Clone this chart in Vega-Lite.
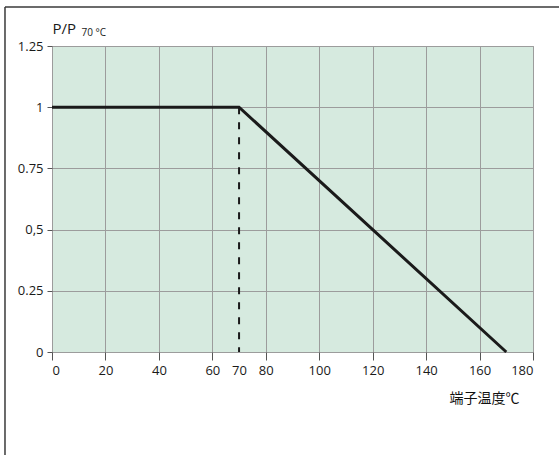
{
  "$schema": "https://vega.github.io/schema/vega-lite/v6.json",
  "width": 481,
  "height": 306,
  "autosize": "none",
  "padding": {"left": 52, "top": 46, "right": 26, "bottom": 103},
  "background": "white",
  "config": {
    "view": {"fill": "#d6eadf", "stroke": "#9c9c9c", "strokeWidth": 1},
    "axis": {"labelFont": "Open Sans", "labelFontSize": 13, "labelColor": "#1a1a1a", "gridColor": "#9c9c9c", "gridWidth": 1, "gridOpacity": 1, "tickColor": "#555555", "domain": false}
  },
  "resolve": {"axis": {"x": "independent"}},
  "layer": [
    {
      "data": {"values": [{"t": 0, "p": 1}, {"t": 70, "p": 1}, {"t": 170, "p": 0}]},
      "mark": {"type": "line", "color": "#1a1a1a", "strokeWidth": 3, "strokeJoin": "miter", "strokeCap": "butt"},
      "encoding": {
        "x": {"field": "t", "type": "quantitative", "scale": {"domain": [0, 180], "nice": false},
          "axis": {"values": [0, 20, 40, 60, 70, 80, 100, 120, 140, 160, 180], "orient": "bottom", "tickSize": 8, "labelPadding": 4, "labelOverlap": false, "labelBound": false,
            "tickOpacity": {"condition": {"test": "datum.value === 70", "value": 0}, "value": 1},
            "gridOpacity": {"condition": {"test": "datum.value === 70", "value": 0}, "value": 1},
            "title": "端子温度℃", "titleFont": "Noto Sans CJK JP", "titleFontSize": 14, "titleFontWeight": "normal", "titleColor": "#111111", "titleAlign": "right", "titleBaseline": "alphabetic", "titleX": 467, "titleY": 50}},
        "y": {"field": "p", "type": "quantitative", "scale": {"domain": [0, 1.25], "nice": false},
          "axis": {"values": [0, 0.25, 0.5, 0.75, 1, 1.25], "tickSize": 5, "labelPadding": 4,
            "labelExpr": "datum.value === 0.5 ? '0,5' : format(datum.value, '~g')",
            "title": "P/P", "titleFont": "Open Sans", "titleFontSize": 15, "titleFontWeight": "normal", "titleColor": "#1a1a1a", "titleAngle": 0, "titleAlign": "left", "titleBaseline": "alphabetic", "titleX": 0, "titleY": -13}}
      }
    },
    {
      "data": {"values": [{"t": 70, "p": 1, "p0": 0}]},
      "mark": {"type": "rule", "color": "#1a1a1a", "strokeWidth": 2, "strokeDash": [7, 8]},
      "encoding": {
        "x": {"field": "t", "type": "quantitative",
          "axis": {"orient": "top", "labels": false, "ticks": false, "grid": false, "domain": false,
            "title": "70 °C", "titleFont": "Open Sans", "titleFontSize": 10, "titleFontWeight": "normal", "titleColor": "#1a1a1a", "titleAlign": "left", "titleBaseline": "alphabetic", "titleX": 29, "titleY": -11}},
        "y": {"field": "p", "type": "quantitative"},
        "y2": {"field": "p0"}
      }
    },
    {
      "data": {"values": [{"side": "left"}]},
      "mark": {"type": "rule", "color": "#3a3a3a", "strokeWidth": 1.5, "clip": false},
      "encoding": {
        "x": {"datum": -17.59, "type": "quantitative", "axis": null},
        "y": {"datum": 1.4093, "type": "quantitative"},
        "y2": {"datum": -0.45}
      }
    },
    {
      "data": {"values": [{"side": "top"}]},
      "mark": {"type": "rule", "color": "#3a3a3a", "strokeWidth": 1.5, "clip": false},
      "encoding": {
        "x": {"datum": -17.59, "type": "quantitative", "axis": null},
        "x2": {"datum": 195},
        "y": {"datum": 1.4093, "type": "quantitative"}
      }
    }
  ]
}
